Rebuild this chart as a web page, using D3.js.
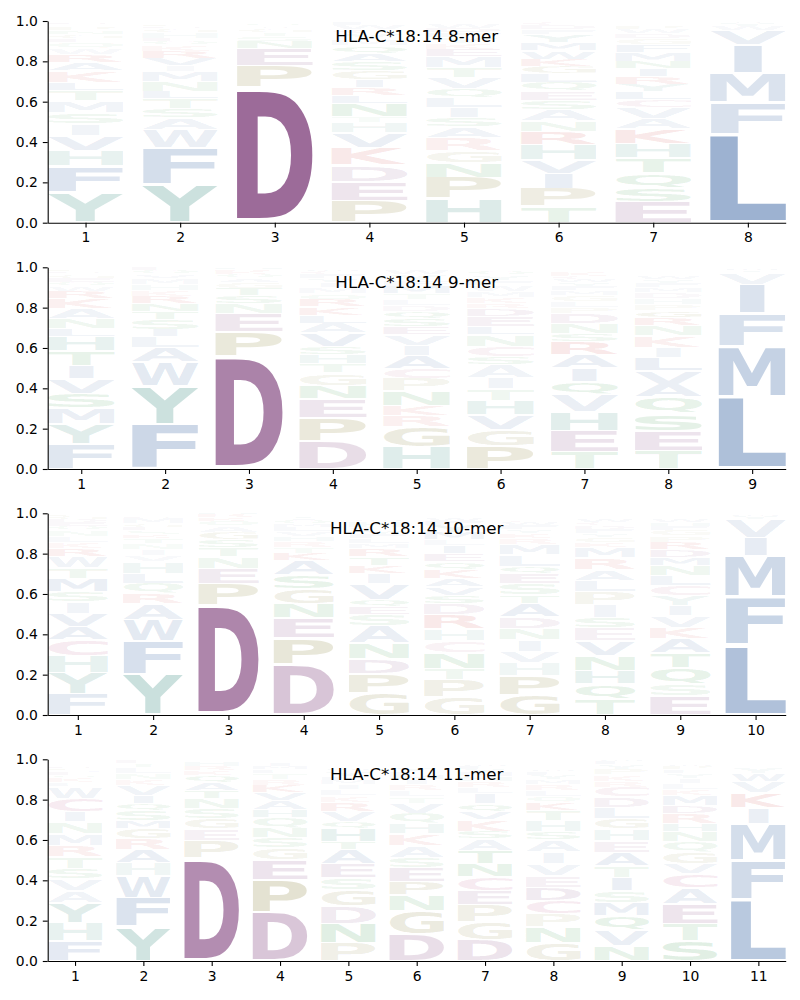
<!DOCTYPE html>
<html><head><meta charset="utf-8">
<script src="https://cdn.jsdelivr.net/npm/d3@7"></script>
<style>body{margin:0;background:#fff} svg{display:block}</style>
</head><body><svg id="chart" width="800" height="1000"></svg>
<script>
// ---------- data (each column: letters from bottom to top, with probability) ----------
const titles = ["HLA-C*18:14 8-mer", "HLA-C*18:14 9-mer", "HLA-C*18:14 10-mer", "HLA-C*18:14 11-mer"];
const yTicks = [0, 0.2, 0.4, 0.6, 0.8, 1.0];

const logo8 = [
  [["Y",.15],["F",.13],["H",.075],["V",.075],["I",.06],["S",.055],["M",.06],["T",.05],["L",.04],["K",.06],["A",.04],["R",.04],["W",.03],["Q",.03],["E",.02],["G",.02],["N",.02],["P",.02],["C",.01],["D",.01]],
  [["Y",.19],["F",.18],["W",.09],["A",.06],["S",.045],["T",.05],["L",.035],["N",.05],["M",.05],["I",.03],["V",.035],["R",.035],["K",.03],["Q",.02],["E",.015],["H",.03],["G",.02],["D",.01],["P",.01]],
  [["D",.67],["P",.11],["E",.085],["N",.035],["S",.025],["T",.02],["G",.02],["A",.01],["Q",.01],["K",.005],["R",.005]],
  [["P",.11],["E",.095],["D",.08],["K",.085],["V",.075],["H",.05],["T",.03],["N",.065],["L",.04],["R",.04],["I",.04],["G",.045],["S",.045],["A",.04],["Q",.04],["M",.03],["Y",.03],["C",.02],["W",.02],["F",.02]],
  [["H",.12],["P",.105],["N",.07],["G",.063],["R",.063],["A",.053],["S",.045],["I",.05],["L",.05],["Q",.045],["V",.055],["T",.05],["M",.055],["E",.035],["K",.03],["Y",.03],["F",.025],["D",.02],["W",.02],["C",.01]],
  [["T",.08],["P",.09],["I",.075],["V",.065],["H",.075],["R",.068],["N",.05],["A",.058],["S",.045],["E",.045],["Q",.045],["L",.045],["G",.035],["K",.035],["W",.04],["M",.04],["Y",.04],["F",.025],["D",.02],["C",.015]],
  [["E",.105],["S",.07],["Q",.07],["T",.075],["H",.07],["K",.075],["A",.05],["V",.055],["C",.04],["L",.04],["Y",.035],["R",.04],["I",.04],["N",.035],["M",.045],["F",.04],["G",.03],["D",.025],["W",.02],["P",.02]],
  [["L",.44],["F",.155],["M",.145],["I",.14],["V",.075],["W",.02],["Y",.015],["A",.01]]
];
const logo9 = [
  [["F",.125],["Y",.10],["M",.076],["S",.074],["V",.07],["I",.066],["T",.074],["H",.07],["L",.04],["N",.05],["A",.05],["K",.05],["R",.035],["W",.025],["Q",.02],["E",.02],["G",.015],["C",.01],["D",.01],["P",.01]],
  [["F",.22],["Y",.19],["W",.12],["A",.07],["L",.055],["I",.035],["S",.05],["T",.04],["N",.04],["R",.035],["K",.03],["H",.03],["M",.03],["V",.02],["Q",.02],["E",.015]],
  [["D",.56],["P",.12],["E",.09],["N",.05],["S",.04],["T",.035],["G",.03],["A",.02],["Q",.02],["K",.015],["R",.01],["H",.01]],
  [["D",.137],["P",.116],["E",.094],["N",.066],["G",.063],["T",.046],["H",.046],["S",.04],["V",.065],["A",.05],["L",.04],["K",.04],["R",.035],["Q",.03],["M",.03],["I",.025],["Y",.02],["F",.02],["C",.015],["W",.01]],
  [["H",.11],["G",.10],["R",.055],["K",.05],["N",.07],["P",.063],["C",.05],["A",.066],["I",.05],["V",.05],["E",.04],["S",.04],["Q",.035],["D",.03],["L",.03],["T",.03],["M",.035],["F",.03],["Y",.03],["W",.02]],
  [["P",.115],["G",.08],["V",.075],["H",.07],["T",.058],["I",.056],["A",.063],["S",.04],["C",.05],["N",.058],["L",.04],["E",.05],["D",.04],["R",.025],["K",.03],["M",.03],["W",.03],["F",.025],["Y",.025],["Q",.02]],
  [["T",.086],["E",.103],["H",.095],["V",.083],["Q",.066],["I",.066],["A",.066],["R",.066],["S",.04],["N",.05],["D",.05],["P",.03],["L",.03],["G",.03],["M",.025],["F",.02],["Y",.02],["W",.015],["C",.015],["K",.02]],
  [["T",.09],["E",.10],["S",.085],["Q",.08],["A",.065],["V",.065],["L",.065],["I",.05],["K",.06],["N",.05],["R",.04],["G",.035],["P",.03],["H",.03],["D",.03],["M",.025],["F",.02],["Y",.02],["W",.015],["C",.01]],
  [["L",.36],["M",.25],["F",.16],["I",.145],["V",.06],["Y",.01],["W",.01],["A",.005]]
];
const logo10 = [
  [["F",.105],["Y",.104],["H",.083],["C",.08],["A",.066],["V",.066],["I",.058],["S",.05],["M",.066],["T",.05],["W",.058],["R",.04],["K",.03],["L",.03],["N",.03],["Q",.02],["E",.02],["D",.015],["G",.015],["P",.01]],
  [["Y",.20],["F",.165],["W",.107],["A",.08],["R",.05],["Q",.05],["L",.05],["H",.06],["V",.03],["I",.03],["N",.03],["T",.025],["K",.02],["S",.02],["E",.015],["G",.015],["M",.03],["D",.01]],
  [["D",.545],["P",.105],["E",.075],["N",.06],["T",.045],["S",.04],["G",.035],["A",.03],["Q",.025],["K",.02],["R",.015],["H",.01]],
  [["D",.25],["P",.13],["E",.10],["N",.07],["G",.075],["S",.07],["A",.07],["K",.035],["T",.03],["R",.03],["H",.025],["V",.025],["L",.02],["M",.015],["Q",.02],["I",.01],["Y",.01]],
  [["G",.11],["P",.095],["D",.075],["N",.075],["A",.085],["S",.058],["E",.04],["Q",.035],["V",.08],["I",.05],["K",.04],["T",.04],["R",.04],["M",.025],["L",.025],["F",.02],["Y",.02],["C",.015],["H",.03],["W",.01]],
  [["G",.09],["P",.085],["T",.055],["N",.08],["C",.058],["H",.058],["R",.07],["D",.058],["S",.04],["V",.04],["A",.04],["K",.045],["Q",.04],["E",.04],["I",.04],["L",.03],["M",.035],["Y",.035],["F",.02],["W",.015]],
  [["G",.10],["P",.096],["H",.063],["V",.055],["I",.058],["N",.058],["D",.058],["A",.066],["T",.04],["S",.058],["E",.05],["Q",.033],["L",.06],["M",.05],["R",.03],["K",.025],["Y",.02],["F",.02],["W",.015],["C",.01]],
  [["T",.08],["Q",.074],["H",.066],["N",.074],["V",.074],["E",.063],["S",.053],["I",.063],["P",.063],["L",.056],["A",.055],["R",.058],["M",.05],["K",.025],["G",.025],["Y",.02],["F",.02],["D",.02],["C",.015],["W",.015]],
  [["E",.094],["S",.058],["Q",.083],["T",.071],["A",.07],["K",.058],["V",.058],["I",.05],["Y",.05],["C",.05],["L",.05],["N",.05],["M",.04],["D",.04],["R",.035],["P",.03],["G",.03],["F",.02],["H",.02],["W",.015]],
  [["L",.35],["F",.235],["M",.205],["I",.09],["V",.09],["Y",.015],["W",.01],["K",.005]]
];
const logo11 = [
  [["F",.10],["H",.09],["Y",.10],["A",.058],["V",.058],["S",.05],["T",.06],["R",.058],["M",.058],["N",.058],["I",.05],["C",.066],["W",.06],["L",.02],["K",.02],["Q",.015],["E",.015],["G",.01],["P",.01],["D",.01]],
  [["Y",.17],["F",.144],["W",.107],["H",.063],["A",.066],["R",.055],["G",.05],["M",.04],["S",.05],["Q",.035],["I",.04],["V",.05],["K",.03],["N",.03],["L",.03],["T",.02],["E",.015]],
  [["D",.51],["P",.086],["E",.06],["G",.05],["S",.05],["N",.05],["T",.04],["A",.04],["Q",.035],["K",.025],["R",.02],["H",.02]],
  [["D",.24],["P",.16],["E",.10],["G",.06],["S",.05],["N",.05],["Q",.05],["H",.04],["A",.045],["V",.04],["K",.035],["R",.03],["T",.03],["L",.02],["M",.015],["I",.015]],
  [["P",.09],["N",.096],["D",.088],["G",.078],["S",.06],["E",.07],["A",.07],["T",.04],["H",.066],["Q",.035],["V",.05],["R",.045],["K",.03],["L",.03],["I",.025],["M",.02],["F",.02],["Y",.02],["C",.01],["W",.01]],
  [["D",.132],["G",.115],["N",.08],["P",.066],["E",.07],["S",.05],["A",.06],["K",.06],["H",.05],["Q",.05],["V",.05],["T",.03],["L",.03],["R",.03],["I",.025],["M",.02],["F",.02],["Y",.015],["C",.01]],
  [["D",.105],["G",.09],["P",.085],["E",.07],["C",.066],["N",.066],["T",.066],["A",.058],["S",.035],["K",.058],["V",.04],["Q",.04],["I",.05],["L",.03],["R",.03],["H",.025],["M",.02],["Y",.015],["F",.015],["W",.01]],
  [["G",.09],["N",.08],["P",.063],["C",.066],["D",.066],["E",.058],["V",.06],["I",.058],["A",.058],["S",.04],["H",.058],["T",.05],["K",.04],["Q",.03],["L",.03],["R",.03],["M",.025],["Y",.02],["F",.02],["W",.01]],
  [["N",.074],["V",.08],["Q",.07],["M",.066],["S",.058],["I",.066],["T",.058],["A",.066],["E",.058],["H",.058],["G",.05],["L",.058],["D",.05],["C",.05],["R",.03],["K",.03],["P",.03],["Y",.02],["F",.02],["W",.01]],
  [["S",.10],["T",.086],["E",.096],["A",.08],["C",.07],["V",.05],["G",.058],["Q",.05],["N",.05],["H",.04],["R",.05],["D",.04],["M",.05],["K",.03],["L",.03],["I",.025],["Y",.025],["F",.02],["P",.015],["W",.01]],
  [["L",.305],["F",.195],["M",.18],["I",.08],["K",.075],["V",.055],["W",.04],["Y",.03],["A",.01]]
];
const logos = [logo8, logo9, logo10, logo11];

// letter colour groups (drawn with opacity growing with probability)
const groupColor = {
  acidic: "rgb(112,42,108)",
  hydrophobic: "rgb(44,91,157)",
  aromatic: "rgb(18,118,102)",
  special: "rgb(110,100,10)",
  polar: "rgb(20,130,40)",
  basic: "rgb(200,25,25)",
  cys: "rgb(170,50,110)"
};
const letterGroup = {D:"acidic",E:"acidic",A:"hydrophobic",V:"hydrophobic",I:"hydrophobic",L:"hydrophobic",M:"hydrophobic",F:"hydrophobic",W:"hydrophobic",
  Y:"aromatic",H:"aromatic",P:"special",G:"special",N:"polar",Q:"polar",S:"polar",T:"polar",K:"basic",R:"basic",C:"cys"};

// ---------- layout ----------
const svg = d3.select("#chart");
const axLeft = 47.7, axRight = 785.7;
const panelTops = [21, 267.3, 513.3, 759.3];
const panelH = 201.7;
const FONT = "DejaVu Sans";
const FS = 100;

const cv = document.createElement("canvas");
const ctx = cv.getContext("2d");
ctx.font = `bold ${FS}px "${FONT}"`;
const metricCache = {};
function glyphMetrics(ch) {
  if (!metricCache[ch]) {
    const m = ctx.measureText(ch);
    metricCache[ch] = {l: m.actualBoundingBoxLeft, r: m.actualBoundingBoxRight, a: m.actualBoundingBoxAscent, d: m.actualBoundingBoxDescent};
  }
  return metricCache[ch];
}
const mE = glyphMetrics("E");
const widthE = mE.l + mE.r;

logos.forEach((logo, pi) => {
  const n = logo.length;
  const top = panelTops[pi];
  const g = svg.append("g");
  const x = d3.scaleLinear().domain([0.6, n + 0.4]).range([axLeft, axRight]);
  const y = d3.scaleLinear().domain([0, 1]).range([top + panelH, top]);

  const lg = g.append("g");
  logo.forEach((col, ci) => {
    const pos = ci + 1;
    const x0 = x(pos - 0.4), x1 = x(pos + 0.4);
    const W = x1 - x0;
    let cum = 0;
    col.forEach(([ch, v]) => {
      const yb = y(cum), yt = y(cum + v);
      cum += v;
      const h = yb - yt;
      const pad = 0.03 * h + 0.35;
      const gh = h - 2 * pad;
      if (gh <= 0.3) return;
      const m = glyphMetrics(ch);
      const gw = m.l + m.r;
      const sx = Math.min(W / gw, W / widthE);
      const sy = gh / (m.a + m.d);
      const drawnW = gw * sx;
      const gx = x0 + (W - drawnW) / 2;
      const tx = gx + sx * m.l;
      const ty = (yt + pad) + sy * m.a;
      lg.append("text")
        .attr("transform", `translate(${tx},${ty}) scale(${sx},${sy})`)
        .attr("font-family", FONT)
        .attr("font-weight", "bold")
        .attr("font-size", FS)
        .attr("fill", groupColor[letterGroup[ch]])
        .attr("fill-opacity", Math.min(1, v + 0.025))
        .text(ch);
    });
  });

  const xAxis = d3.axisBottom(x).tickValues(d3.range(1, n + 1)).tickFormat(d3.format("d"))
    .tickSize(4.9).tickPadding(4.9).tickSizeOuter(0);
  const yAxis = d3.axisLeft(y).tickValues(yTicks).tickFormat(d3.format(".1f"))
    .tickSize(4.9).tickPadding(4.9).tickSizeOuter(0);
  const gx = g.append("g").attr("transform", `translate(0,${top + panelH})`).call(xAxis);
  const gy = g.append("g").attr("transform", `translate(${axLeft},0)`).call(yAxis);
  [gx, gy].forEach(a => {
    a.selectAll("path.domain").attr("stroke", "#000").attr("stroke-width", 1.1);
    a.selectAll(".tick line").attr("stroke", "#000").attr("stroke-width", 1.1);
    a.selectAll(".tick text").attr("font-family", FONT).attr("font-size", 13.9).attr("fill", "#000");
  });

  g.append("text")
    .attr("x", (axLeft + axRight) / 2)
    .attr("y", top + 20.7)
    .attr("text-anchor", "middle")
    .attr("font-family", FONT)
    .attr("font-size", 16.7)
    .attr("fill", "#000")
    .text(titles[pi]);
});
</script>
</body></html>
